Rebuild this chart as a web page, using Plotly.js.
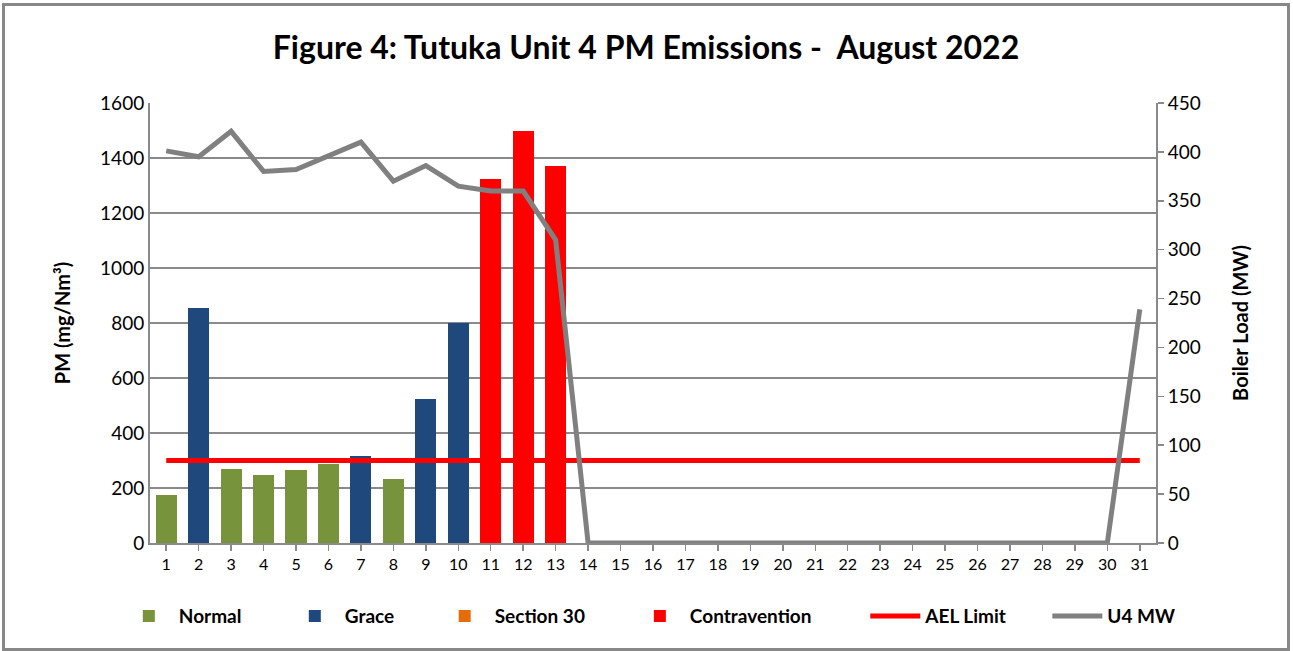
<!DOCTYPE html>
<html>
<head>
<meta charset="utf-8">
<script src="https://cdn.plot.ly/plotly-3.0.1.min.js"></script>
<style>
  body { margin: 0; background: #fff; }
  #chart { position: absolute; left: 2px; top: 3px; width: 1282px; height: 642px; border: 3px solid #888; }
</style>
</head>
<body>
<div id="chart"></div>
<script>
// days of August 2022
var days = [];
for (var d = 1; d <= 31; d++) days.push(String(d));

// PM emissions (mg/Nm3) per day, split by status
var normal        = [175, null, 268, 246, 267, 287, null, 232, null, null, null, null, null];
var grace         = [null, 855, null, null, null, null, 316, null, 522, 799, null, null, null];
var section30     = [0, 0, 0, 0, 0, 0, 0, 0, 0, 0, 0, 0, 0];   // no Section 30 days this month
var contravention = [null, null, null, null, null, null, null, null, null, null, 1324, 1498, 1371];

// AEL limit (mg/Nm3)
var aelLimit = [300, 300, 300, 300, 300, 300, 300, 300, 300, 300, 300, 300, 300, 300, 300, 300,
                300, 300, 300, 300, 300, 300, 300, 300, 300, 300, 300, 300, 300, 300, 300];

// Unit 4 boiler load (MW)
var u4MW = [401, 395, 421, 380, 382, 396, 410, 370, 386, 365, 360, 360, 310, 0, 0, 0,
            0, 0, 0, 0, 0, 0, 0, 0, 0, 0, 0, 0, 0, 0, 239];

var font = "Lato, 'Open Sans', sans-serif";
var gridGray = "#8a8a8a";

var traceNormal = {
    x: days, y: normal, name: "Normal", type: "bar",
    marker: {color: "#77933C"}, legend: "legend"
};
var traceGrace = {
    x: days, y: grace, name: "Grace", type: "bar",
    marker: {color: "#1F497D"}, legend: "legend2"
};
var traceS30 = {
    x: days, y: section30, name: "Section 30", type: "bar",
    marker: {color: "#E46C0A", line: {width: 0}}, legend: "legend3"
};
var traceContra = {
    x: days, y: contravention, name: "Contravention", type: "bar",
    marker: {color: "#FF0000"}, legend: "legend4"
};
var traceAel = {
    x: days, y: aelLimit, name: "AEL Limit", type: "scatter", mode: "lines",
    line: {color: "#FF0000", width: 5}, legend: "legend5"
};
var traceMW = {
    x: days, y: u4MW, name: "U4 MW", type: "scatter", mode: "lines", yaxis: "y2",
    line: {color: "#808080", width: 5}, legend: "legend6"
};

var data = [traceNormal, traceGrace, traceS30, traceContra, traceAel, traceMW];

var layout = {
    width: 1282,
    height: 642,
    margin: {l: 145, r: 131, t: 97, b: 105},
    paper_bgcolor: "#fff",
    plot_bgcolor: "#fff",
    font: {family: font, color: "#000", size: 19},
    title: {
        text: "<b>Figure 4: Tutuka Unit 4 PM Emissions -  August 2022</b>",
        font: {family: font, size: 32, color: "#000"},
        x: 0.5, xanchor: "center", y: 0.935, yanchor: "middle"
    },
    barmode: "stack",
    bargap: 0.35,
    showlegend: true,
    xaxis: {
        type: "category",
        range: [-0.5, days.length - 0.5],
        showline: true, linecolor: gridGray, linewidth: 2,
        ticks: "outside", ticklen: 6, tickcolor: gridGray, tickwidth: 1.5,
        tickfont: {size: 16},
        showgrid: false,
        fixedrange: true
    },
    yaxis: {
        title: {text: "<b>PM (mg/Nm³)</b>", font: {size: 20}, standoff: 24},
        range: [0, 1600], dtick: 200,
        showline: true, linecolor: gridGray, linewidth: 2,
        showgrid: true, gridcolor: gridGray, gridwidth: 1.5,
        ticks: "", tickfont: {size: 19},
        zeroline: false
    },
    yaxis2: {
        title: {text: "<b>Boiler Load (MW)</b>", font: {size: 20}, standoff: 34},
        overlaying: "y", side: "right",
        range: [0, 450], dtick: 50,
        showline: true, linecolor: gridGray, linewidth: 2,
        ticks: "outside", ticklen: 6, tickcolor: gridGray, tickwidth: 1.5,
        showgrid: false, zeroline: false,
        tickfont: {size: 19}
    }
};

// one legend box per entry so the entries sit where the original spaces them
var legendX = [-0.031, 0.134, 0.283, 0.477, 0.711, 0.892];
legendX.forEach(function(x, i) {
    var key = i === 0 ? "legend" : "legend" + (i + 1);
    layout[key] = {
        orientation: "h",
        x: x, xanchor: "left",
        y: -0.123, yanchor: "top",
        font: {family: font, size: 19, color: "#000", weight: "bold"},
        itemwidth: 50
    };
});

Plotly.newPlot("chart", data, layout, {displayModeBar: false, staticPlot: true});
</script>
</body>
</html>
